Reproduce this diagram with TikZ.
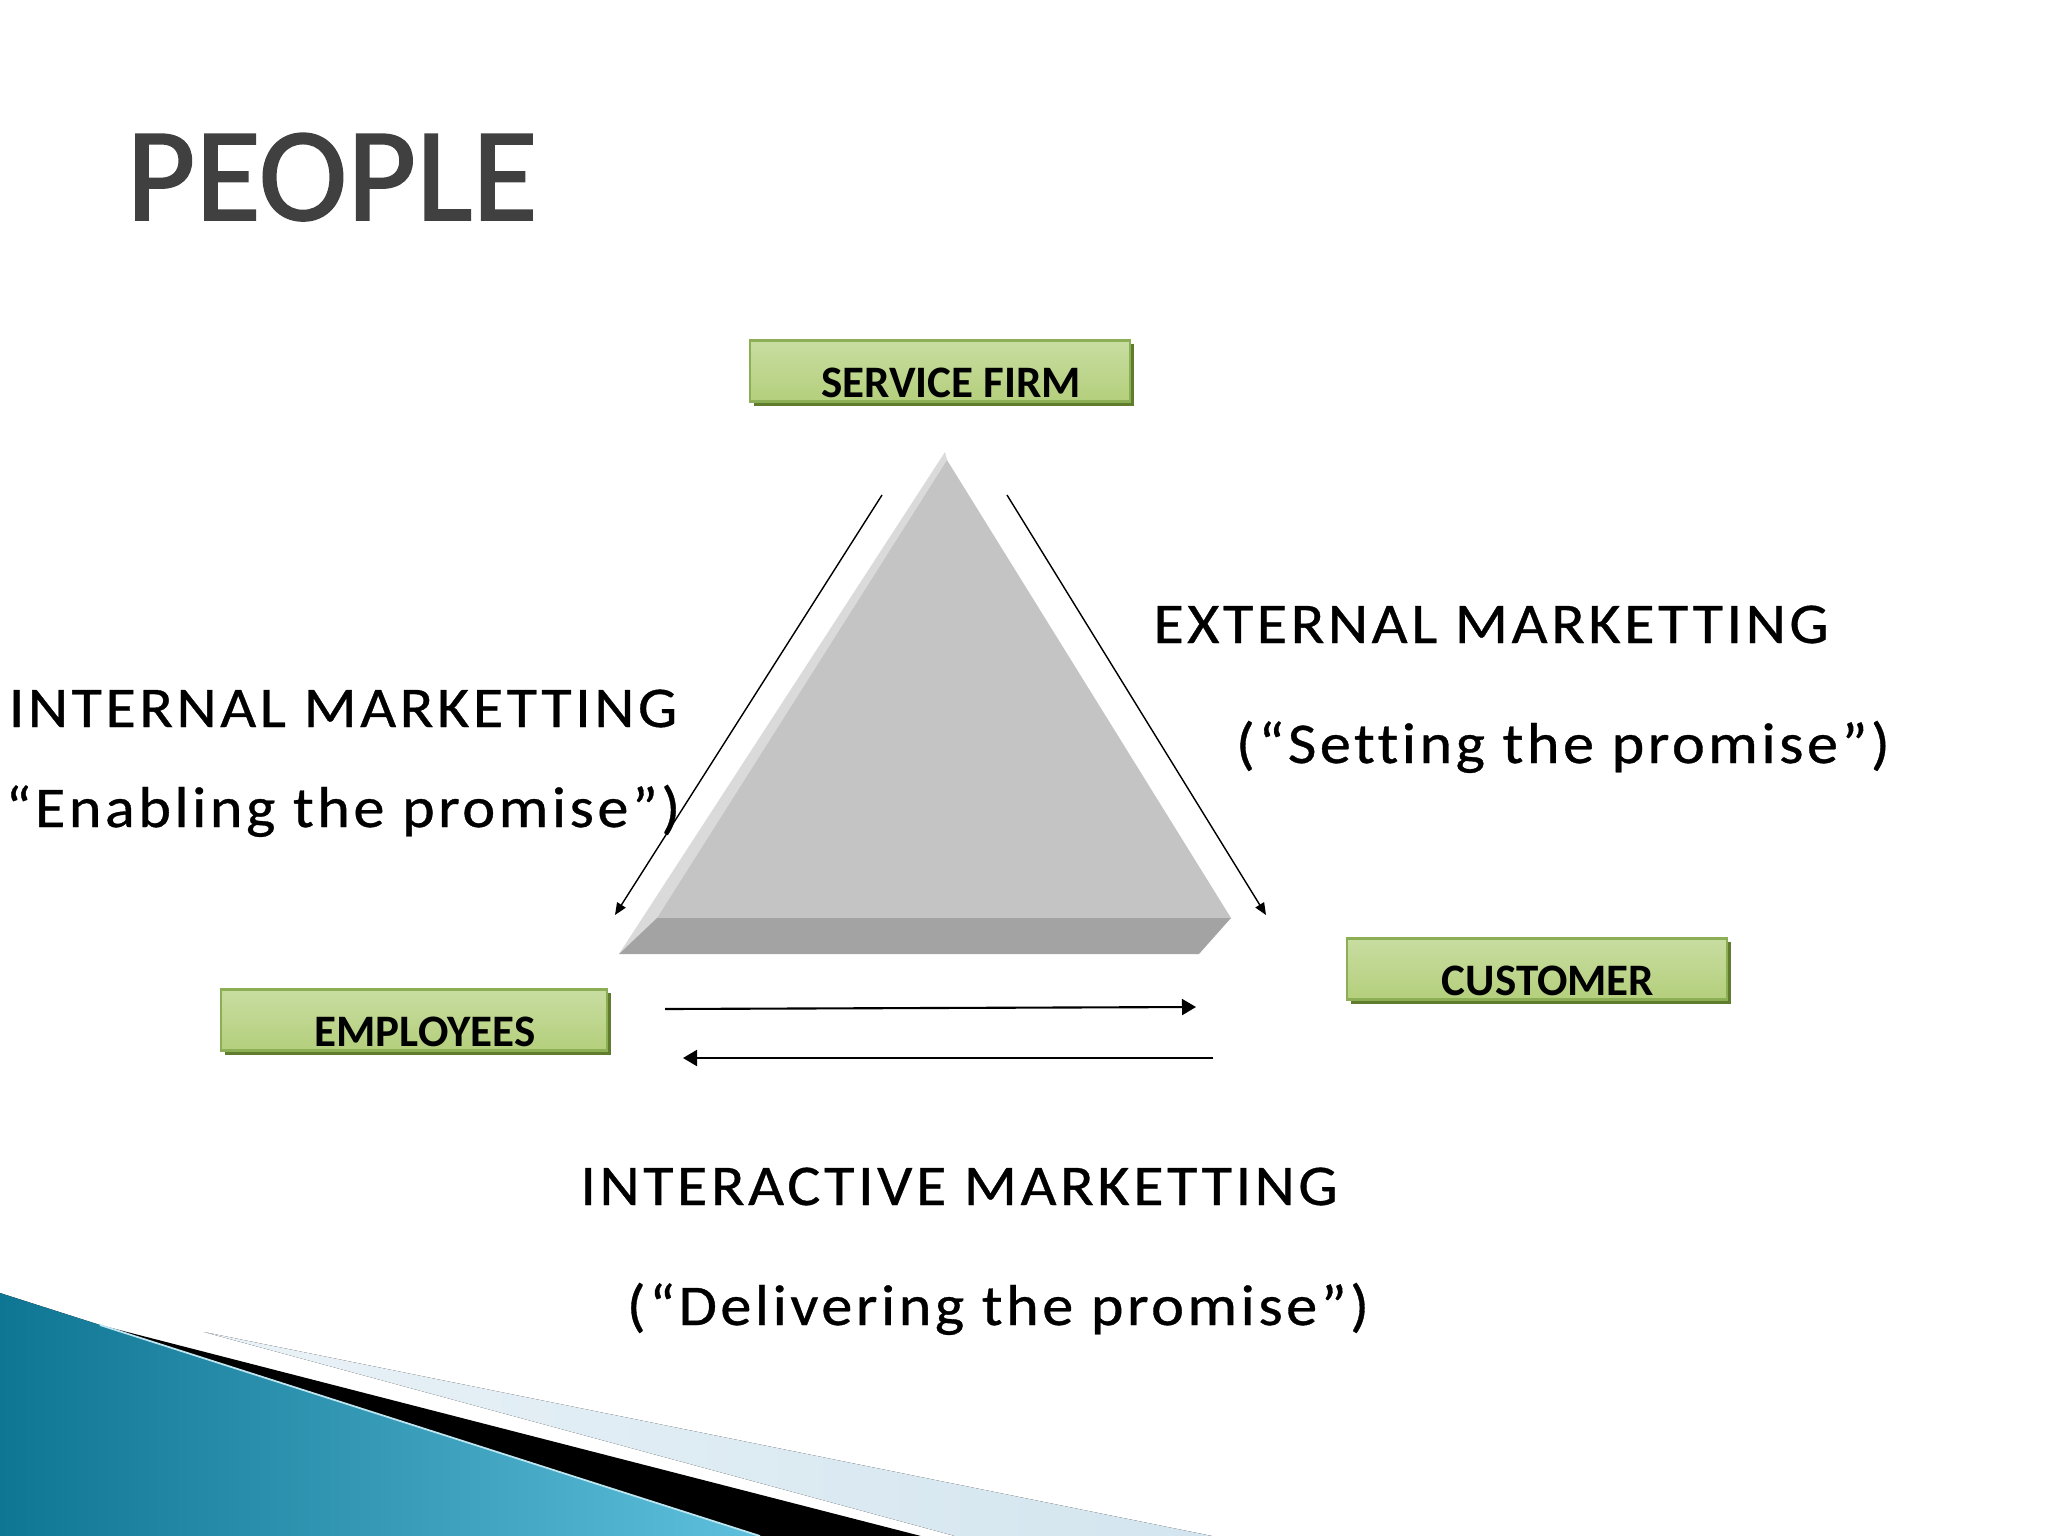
\documentclass[tikz,border=0pt]{standalone}
\usepackage{fontspec}
\setmainfont{Carlito}
\newfontfamily\spacedfont[LetterSpace=6, FakeStretch=1.08, FakeBold=0.6, Ligatures=NoCommon]{Carlito}
\newfontfamily\titlefont[FakeBold=1.4]{Carlito}
\usepackage{tikz}
\usetikzlibrary{arrows.meta, shadows}
\definecolor{titlegrey}{HTML}{404040}
\definecolor{boxlight}{HTML}{C8DDA1}
\definecolor{boxmid}{HTML}{A4C463}
\definecolor{boxlow}{HTML}{B4CF7C}
\definecolor{boxedge}{HTML}{8CAF55}
\definecolor{boxshadow}{HTML}{5F7D2C}
\definecolor{facegrey}{HTML}{C4C4C4}
\definecolor{bevelgrey}{HTML}{DADADA}
\definecolor{basegrey}{HTML}{A3A3A3}
\definecolor{tealdark}{HTML}{0E7592}
\definecolor{teallight}{HTML}{5EC0DC}
\definecolor{paleblue}{HTML}{D3E5EF}
\tikzstyle{party} = [rectangle, draw=boxedge, line width=0.6pt, top color=boxlight, middle color=boxmid, bottom color=boxlow, minimum width=3.8cm, minimum height=0.61cm, inner sep=0pt, text height=0.52cm, text depth=0pt, font=\bfseries\fontsize{12.8pt}{14pt}\selectfont, drop shadow={shadow xshift=0.04cm, shadow yshift=-0.04cm, fill=boxshadow, opacity=1}, execute at begin node=\hspace{0.22cm}]
\tikzstyle{mktlabel} = [anchor=base, inner sep=0pt, font=\spacedfont\fontsize{16.4pt}{19pt}\selectfont]
\tikzstyle{thinarrow} = [line width=0.4pt, -{Triangle[length=0.12cm, width=0.1cm]}]
\tikzstyle{arrow} = [line width=0.6pt, -{Triangle[length=0.14cm, width=0.16cm]}]

\begin{document}
\begin{tikzpicture}[x=0.01cm, y=-0.01cm]
    \useasboundingbox (0,0) rectangle (2048,1536);

    % Slide corner decoration
    \fill[left color=white!50!paleblue, right color=paleblue] (204,1332) -- (1212,1536) -- (955,1536) -- cycle;
    \fill[black] (100,1325) -- (921,1536) -- (760,1536) -- cycle;
    \fill[left color=tealdark, right color=teallight] (0,1293) -- (760,1536) -- (0,1536) -- cycle;
    \draw[white!60!teallight, line width=0.5pt] (100,1325) -- (760,1536);

    % Title
    \node[anchor=base, inner sep=0pt, text=titlegrey, font=\titlefont\fontsize{38pt}{44pt}\selectfont] (title) at (332,220) {PEOPLE};

    % Triangle
    \fill[bevelgrey] (945,452) -- (619,954) -- (657,918) -- (947,460) -- cycle;
    \fill[facegrey] (947,460) -- (657,918) -- (1231,918) -- cycle;
    \fill[basegrey] (657,918) -- (1231,918) -- (1199,954) -- (619,954) -- cycle;

    % Parties
    \node[party] (firm) at (940,371) {SERVICE FIRM};
    \node[party, minimum width=3.86cm] (emp) at (414,1020) {EMPLOYEES};
    \node[party] (cust) at (1537,969) {CUSTOMER};

    % Arrow ends
    \coordinate (inA) at (882,495);
    \coordinate (inB) at (615,915);
    \coordinate (exA) at (1007,495);
    \coordinate (exB) at (1266,915);
    \coordinate (toA) at (665,1009);
    \coordinate (toB) at (1196,1007);
    \coordinate (backA) at (1213,1058);
    \coordinate (backB) at (683,1058);

    \draw[thinarrow] (inA) -- (inB);
    \draw[thinarrow] (exA) -- (exB);
    \draw[arrow] (toA) -- (toB);
    \draw[arrow] (backA) -- (backB);

    % Labels
    \node[mktlabel] (intl) at (343,727) {INTERNAL MARKETTING};
    \node[mktlabel] (intp) at (343,827) {“Enabling the promise”)};
    \node[mktlabel] (extl) at (1491,643) {EXTERNAL MARKETTING};
    \node[mktlabel] (extp) at (1563,763) {(“Setting the promise”)};
    \node[mktlabel] (actl) at (959,1205) {INTERACTIVE MARKETTING};
    \node[mktlabel] (actp) at (998,1325) {(“Delivering the promise”)};
\end{tikzpicture}
\end{document}
